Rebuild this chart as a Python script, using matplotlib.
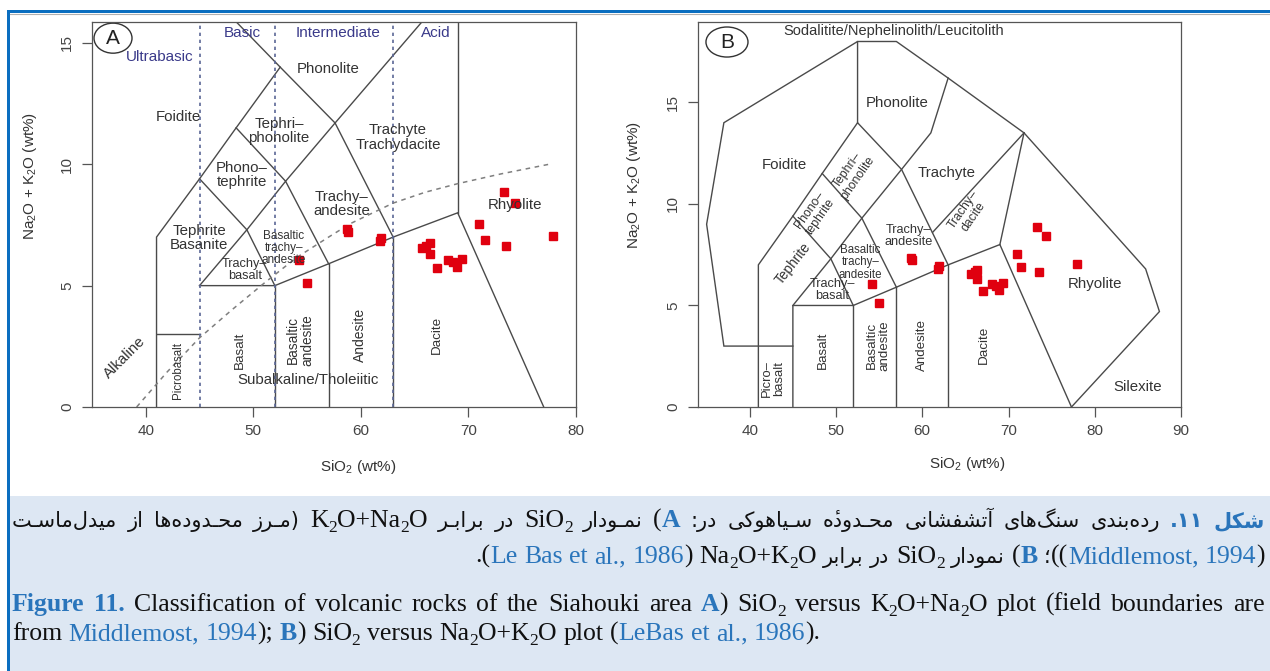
import matplotlib
matplotlib.use("Agg")
import matplotlib.pyplot as plt
from matplotlib.patches import Ellipse, Rectangle
from matplotlib.font_manager import FontProperties

plt.rcParams["font.family"] = ["Liberation Sans", "DejaVu Sans"]
plt.rcParams["mathtext.fontset"] = "custom"
plt.rcParams["mathtext.rm"] = "Liberation Sans"
plt.rcParams["mathtext.default"] = "rm"

W, H = 1270, 671

# ---------- analysed samples (wt%) ----------
sio2 = [54.2, 55.0, 58.7, 58.8, 61.9, 61.8, 65.7, 66.1, 66.4, 66.4, 67.1,
        68.1, 68.6, 68.9, 69.4, 71.0, 71.5, 73.5, 77.9, 73.3, 74.3]
alkali = [6.04, 5.12, 7.34, 7.22, 6.96, 6.82, 6.54, 6.65, 6.75, 6.31, 5.71,
          6.07, 5.96, 5.78, 6.10, 7.55, 6.89, 6.63, 7.03, 8.87, 8.42]

# ---------- Middlemost (1994) fields ----------
mid_lines = [
    [(41, 0), (41, 7), (45, 9.4), (48.4, 11.5), (52.5, 14), (46.8, 16.6)],
    [(41, 3), (45, 3)],
    [(45, 5), (52, 5), (57, 5.9), (63, 7), (69, 8), (77, 0)],
    [(45, 5), (49.4, 7.3), (52, 5)],
    [(45, 9.4), (49.4, 7.3), (53, 9.3), (57, 5.9)],
    [(48.4, 11.5), (53, 9.3), (57.6, 11.7), (63, 7)],
    [(52.5, 14), (57.6, 11.7), (67.1, 16.6)],
    [(52, 0), (52, 5)],
    [(57, 0), (57, 5.9)],
    [(63, 0), (63, 7)],
    [(69, 8), (69, 16.6)],
]
silica_groups = [45, 52, 63]
# alkaline / subalkaline divide (Irvine & Baragar)
ib_x = [39.15, 42, 45, 48, 51, 54, 57, 59, 63, 66, 69, 73, 77.5]
ib_y = [0, 1.45, 2.85, 4.0, 5.1, 6.15, 7.0, 7.55, 8.4, 8.85, 9.2, 9.6, 10.0]

mid_labels = [
    ("Ultrabasic", 41.3, 14.42, 11, 0, "#3a3a8a"),
    ("Basic", 48.95, 15.41, 11, 0, "#3a3a8a"),
    ("Intermediate", 57.87, 15.41, 11, 0, "#3a3a8a"),
    ("Acid", 66.98, 15.41, 11, 0, "#3a3a8a"),
    ("Phonolite", 56.94, 13.93, 10.8, 0, "#333333"),
    ("Foidite", 43.0, 11.95, 10.8, 0, "#333333"),
    ("Tephri–\nphonolite", 52.4, 11.37, 10.8, 0, "#333333"),
    ("Trachyte\nTrachydacite", 63.45, 11.1, 10.8, 0, "#333333"),
    ("Phono–\ntephrite", 48.95, 9.56, 10.8, 0, "#333333"),
    ("Trachy–\nandesite", 58.24, 8.36, 10.8, 0, "#333333"),
    ("Tephrite\nBasanite", 44.95, 6.96, 10.8, 0, "#333333"),
    ("Basaltic\ntrachy–\nandesite", 52.85, 6.55, 8.5, 0, "#333333"),
    ("Trachy–\nbasalt", 49.22, 5.64, 9.2, 0, "#333333"),
    ("Rhyolite", 74.33, 8.32, 10.8, 0, "#333333"),
    ("Alkaline", 38.07, 2.02, 10.8, 45, "#333333"),
    ("Picrobasalt", 43.0, 1.52, 8.3, 90, "#333333"),
    ("Basalt", 48.76, 2.35, 9.6, 90, "#333333"),
    ("Basaltic\nandesite", 54.34, 2.76, 9.8, 90, "#333333"),
    ("Andesite", 59.92, 2.97, 10, 90, "#333333"),
    ("Dacite", 67.08, 2.97, 9.6, 90, "#333333"),
    ("Subalkaline/Tholeiitic", 55.08, 1.11, 10.8, 0, "#333333"),
]

# ---------- Le Bas et al. (1986) fields ----------
lebas_lines = [
    [(52.5, 14), (52.5, 18), (37, 14), (35, 9), (37, 3), (45, 3)],
    [(52.5, 18), (57, 18), (63, 16.2), (71.8, 13.5), (85.9, 6.8), (87.5, 4.7), (77.3, 0)],
    [(63, 16.2), (61, 13.5), (57.6, 11.7), (53, 9.3), (49.4, 7.3), (45, 5)],
    [(41, 0), (41, 7), (45, 9.4), (48.4, 11.5), (52.5, 14), (57.6, 11.7), (63, 7)],
    [(45, 9.4), (49.4, 7.3), (52, 5)],
    [(48.4, 11.5), (53, 9.3), (57, 5.9)],
    [(45, 0), (45, 5), (52, 5), (57, 5.9), (63, 7), (69, 8), (77.3, 0)],
    [(52, 0), (52, 5)],
    [(57, 0), (57, 5.9)],
    [(63, 0), (63, 7)],
    [(69, 8), (71.8, 13.5)],
    [(61.2, 8.6), (71.8, 13.5)],
]

lebas_labels = [
    ("Sodalitite/Nephelinolith/Leucitolith", 56.64, 18.52, 10.5, 0),
    ("Phonolite", 57.1, 14.97, 10.8, 0),
    ("Foidite", 43.98, 11.91, 10.8, 0),
    ("Trachyte", 62.8, 11.51, 10.8, 0),
    ("Tephri–\nphonolite", 51.88, 11.47, 8.8, 55),
    ("Phono–\ntephrite", 47.58, 9.55, 8.8, 55),
    ("Trachy–\ndacite", 65.35, 9.55, 8.8, 55),
    ("Trachy–\nandesite", 58.38, 8.41, 9.2, 0),
    ("Tephrite", 45.03, 7.08, 9.8, 52),
    ("Basaltic\ntrachy–\nandesite", 52.81, 7.13, 8.3, 0),
    ("Trachy–\nbasalt", 49.56, 5.75, 9.2, 0),
    ("Rhyolite", 79.98, 6.04, 10.8, 0),
    ("Silexite", 84.97, 0.97, 10.8, 0),
    ("Picro–\nbasalt", 42.71, 1.41, 9.4, 90),
    ("Basalt", 48.51, 2.79, 9.6, 90),
    ("Basaltic\nandesite", 54.9, 3.04, 9.6, 90),
    ("Andesite", 60.0, 3.04, 9.6, 90),
    ("Dacite", 67.09, 3.04, 9.7, 90),
]

LINE = "#4a4a4a"
RED = "#e0000f"
BLUE = "#2a75bb"

fig = plt.figure(figsize=(W / 100, H / 100), dpi=100)

# page layer in pixel coordinates: frame, caption box, caption text
bg = fig.add_axes([0, 0, 1, 1], zorder=-1)
bg.set_xlim(0, W)
bg.set_ylim(H, 0)
bg.axis("off")
bg.add_patch(Rectangle((10, 496), W - 10, H - 496, color="#dde7f3", lw=0))
bg.add_patch(Rectangle((7, 10), W - 7, 2.5, color="#0a6ec0", lw=0))
bg.add_patch(Rectangle((7, 10), 3, H - 10, color="#0a6ec0", lw=0))
bg.plot([10, W], [14, 14], color="#b0b0b0", lw=0.8)


def px_axes(left, top, right, bottom):
    return fig.add_axes([left / W, 1 - bottom / H, (right - left) / W, (bottom - top) / H])


def style_axes(ax, xlim, ylim, xticks):
    ax.set_xlim(*xlim)
    ax.set_ylim(*ylim)
    ax.set_xticks(xticks)
    ax.set_yticks([0, 5, 10, 15])
    ax.tick_params(direction="out", length=7, width=0.9, colors="#555555",
                   labelcolor="#444444", labelsize=11, pad=5)
    ax.tick_params(axis="y", labelrotation=90, pad=6)
    for lab in ax.get_yticklabels():
        lab.set_va("center")
    for sp in ax.spines.values():
        sp.set_color("#555555")
        sp.set_linewidth(0.9)


def draw_fields(ax, lines):
    for ln in lines:
        xs, ys = zip(*ln)
        ax.plot(xs, ys, color=LINE, lw=1.0, solid_joinstyle="miter")


def ring_label(ax, letter, cx, cy, w, h):
    ax.add_patch(Ellipse((cx, cy), w, h, transform=ax.transAxes, fill=False,
                         ec="#333333", lw=1.0, clip_on=False))
    ax.text(cx, cy, letter, transform=ax.transAxes, ha="center", va="center",
            fontsize=15, color="#222222")


# ---- panel A ----
axA = px_axes(92, 22, 576, 407)
style_axes(axA, (35, 80), (0, 15.86), [40, 50, 60, 70, 80])
draw_fields(axA, mid_lines)
for xv in silica_groups:
    axA.axvline(xv, color="#5b6796", lw=1.2, ls=(0, (2, 2.2)))
axA.plot(ib_x, ib_y, color="#7f7f7f", lw=1.1, ls=(0, (3, 3)))
for txt, x, y, fs, rot, col in mid_labels:
    axA.text(x, y, txt, ha="center", va="center", fontsize=fs, rotation=rot,
             color=col, linespacing=1.05)
axA.plot(sio2, alkali, ls="none", marker="s", ms=6, color=RED, mec=RED)
ring_label(axA, "A", 0.0434, 0.958, 0.0785, 0.078)

# ---- panel B ----
axB = px_axes(698, 22, 1181, 407)
style_axes(axB, (34, 90), (0, 18.96), [40, 50, 60, 70, 80, 90])
draw_fields(axB, lebas_lines)
for txt, x, y, fs, rot in lebas_labels:
    axB.text(x, y, txt, ha="center", va="center", fontsize=fs, rotation=rot,
             color="#333333", linespacing=1.05, rotation_mode="anchor")
axB.plot(sio2, alkali, ls="none", marker="s", ms=6, color=RED, mec=RED)
ring_label(axB, "B", 0.06, 0.948, 0.087, 0.078)

ylab = r"Na$_2$O + K$_2$O (wt%)"
xlab = r"SiO$_2$ (wt%)"
fig.text(30 / W, 1 - 176 / H, ylab, rotation=90, ha="center", va="center", fontsize=11, color="#333333")
fig.text(634 / W, 1 - 185 / H, ylab, rotation=90, ha="center", va="center", fontsize=11, color="#333333")
fig.text(358 / W, 1 - 467 / H, xlab, ha="center", va="center", fontsize=11, color="#333333")
fig.text(967 / W, 1 - 464 / H, xlab, ha="center", va="center", fontsize=11, color="#333333")

# ---------- caption ----------
# contextual forms for the Persian letters in the caption: isolated, final, initial, medial
FORMS = {
    "ا": ("\ufe8d", "\ufe8e", None, None),
    "آ": ("\ufe81", "\ufe82", None, None),
    "ب": ("\ufe8f", "\ufe90", "\ufe91", "\ufe92"),
    "ت": ("\ufe95", "\ufe96", "\ufe97", "\ufe98"),
    "ح": ("\ufea1", "\ufea2", "\ufea3", "\ufea4"),
    "د": ("\ufea9", "\ufeaa", None, None),
    "ر": ("\ufead", "\ufeae", None, None),
    "ز": ("\ufeaf", "\ufeb0", None, None),
    "س": ("\ufeb1", "\ufeb2", "\ufeb3", "\ufeb4"),
    "ش": ("\ufeb5", "\ufeb6", "\ufeb7", "\ufeb8"),
    "ف": ("\ufed1", "\ufed2", "\ufed3", "\ufed4"),
    "ل": ("\ufedd", "\ufede", "\ufedf", "\ufee0"),
    "م": ("\ufee1", "\ufee2", "\ufee3", "\ufee4"),
    "ن": ("\ufee5", "\ufee6", "\ufee7", "\ufee8"),
    "ه": ("\ufee9", "\ufeea", "\ufeeb", "\ufeec"),
    "و": ("\ufeed", "\ufeee", None, None),
    "ک": ("\ufb8e", "\ufb8f", "\ufb90", "\ufb91"),
    "گ": ("\ufb92", "\ufb93", "\ufb94", "\ufb95"),
    "ی": ("\ufbfc", "\ufbfd", "\ufbfe", "\ufbff"),
    "ـ": ("\u0640", "\u0640", "\u0640", "\u0640"),
}
MARKS = {"\u0654"}


def shape(s):
    letters = [c for c in s]
    out = []
    for i, c in enumerate(letters):
        f = FORMS.get(c)
        if f is None:
            out.append(c)
            continue
        # neighbours, skipping combining marks
        j = i - 1
        while j >= 0 and letters[j] in MARKS:
            j -= 1
        m = i + 1
        while m < len(letters) and letters[m] in MARKS:
            m += 1
        prev = letters[j] if j >= 0 else ""
        nxt = letters[m] if m < len(letters) else ""
        jp = prev in FORMS and FORMS[prev][2] is not None
        jn = nxt in FORMS and f[2] is not None
        out.append(f[3] if jp and jn else f[1] if jp else f[2] if jn else f[0])
    return "".join(out).replace("\u200c", "")


def rtl(s):
    # visual order for a right-to-left run, brackets mirrored
    vis = list(shape(s)[::-1].translate(str.maketrans("()", ")(")))
    # keep each combining mark after its base letter
    i = 0
    while i < len(vis) - 1:
        if vis[i] in MARKS:
            vis[i], vis[i + 1] = vis[i + 1], vis[i]
            i += 2
        else:
            i += 1
    return "".join(vis)


EN = dict(family="Liberation Serif", size=18.5, color="#111111", weight="normal")
EN_B = dict(EN, color=BLUE, weight="bold")
EN_C = dict(EN, color=BLUE)
FA = dict(family="DejaVu Sans", size=15, color="#111111", weight="normal", rtl=True)
FA_B = dict(FA, color=BLUE, weight="bold")


def chem(formula, st):
    parts = []
    for ch in formula:
        if ch.isdigit():
            parts.append((ch, dict(st, size=st["size"] * 0.68, dy=5)))
        elif parts and "dy" not in parts[-1][1]:
            parts[-1] = (parts[-1][0] + ch, parts[-1][1])
        else:
            parts.append((ch, st))
    return parts


renderer = fig.canvas.get_renderer()


def fprop(st, k=1.0):
    return FontProperties(family=st["family"], size=st["size"] * k, weight=st["weight"])


def text_width(s, st, k=1.0):
    t = bg.text(0, 0, s, fontproperties=fprop(st, k))
    w = t.get_window_extent(renderer).width
    t.remove()
    return w


def split_words(pieces):
    words = [[]]
    for txt, st in pieces:
        if st.get("rtl"):
            txt = rtl(txt)
        for k, part in enumerate(txt.split(" ")):
            if k:
                words.append([])
            if part:
                words[-1].append((part, st))
    return [w for w in words if w]


def draw_line(pieces, y, x0, x1, align="left"):
    words = split_words(pieces)
    k = 1.0
    while True:
        placed, widths = [], []
        for w in words:
            off, items = 0, []
            for part, st in w:
                t = bg.text(0, y + st.get("dy", 0) * k, part, fontproperties=fprop(st, k),
                            color=st["color"], ha="left", va="baseline")
                items.append((t, off))
                off += t.get_window_extent(renderer).width
            placed.append(items)
            widths.append(off)
        space = text_width("a a", EN, k) - text_width("aa", EN, k)
        n = len(words)
        total = sum(widths)
        if total + 0.7 * space * (n - 1) <= x1 - x0 or k < 0.7:
            break
        # too long for the measure: shrink the line slightly and set it again
        for items in placed:
            for t, _ in items:
                t.remove()
        k *= 0.97
    if align == "justify" and n > 1:
        gap, x = (x1 - x0 - total) / (n - 1), x0
    elif align == "right":
        gap, x = space, x1 - total - space * (n - 1)
    else:
        gap, x = space, x0
    for items, ww in zip(placed, widths):
        for t, off in items:
            t.set_x(x + off)
        x += ww + gap


fa_line1 = ([("(مـرز محـدوده‌ها از میدل‌ماسـت", FA), (" ", EN)] + chem("K2O+Na2O", EN)
            + [(" ", EN), ("در برابـر", FA), (" ", EN)] + chem("SiO2", EN)
            + [(" ", EN), ("نمـودار", FA), (" (", EN), ("A", EN_B), (" ", EN),
               ("رده‌بندی سنگ‌های آتشفشانی محـدوده\u0654 سـیاهوکی در:", FA),
               (" ", EN), ("شکل ۱۱.", FA_B)])
fa_line2 = ([(".(", EN), ("Le Bas et al., 1986", EN_C), (") ", EN)] + chem("Na2O+K2O", EN)
            + [(" ", EN), ("در برابر", FA), (" ", EN)] + chem("SiO2", EN)
            + [(" ", EN), ("نمودار", FA), (" (", EN), ("B", EN_B), (" ", EN), ("؛", FA),
               ("((", EN), ("Middlemost, 1994", EN_C), (")", EN)])
en_line1 = ([("Figure 11.", EN_B), (" Classification of volcanic rocks of the Siahouki area ", EN),
             ("A", EN_B), (") ", EN)] + chem("SiO2", EN) + [(" versus ", EN)]
            + chem("K2O+Na2O", EN) + [(" plot (field boundaries are", EN)])
en_line2 = ([("from ", EN), ("Middlemost, 1994", EN_C), ("); ", EN), ("B", EN_B), (") ", EN)]
            + chem("SiO2", EN) + [(" versus ", EN)] + chem("Na2O+K2O", EN)
            + [(" plot (", EN), ("LeBas et al., 1986", EN_C), (").", EN)])

draw_line(fa_line1, 527, 12, 1265, "justify")
draw_line(fa_line2, 563, 12, 1265, "right")
draw_line(en_line1, 611, 12, 1265, "justify")
draw_line(en_line2, 640, 12, 1265, "left")

fig.savefig("out.png", dpi=100)
